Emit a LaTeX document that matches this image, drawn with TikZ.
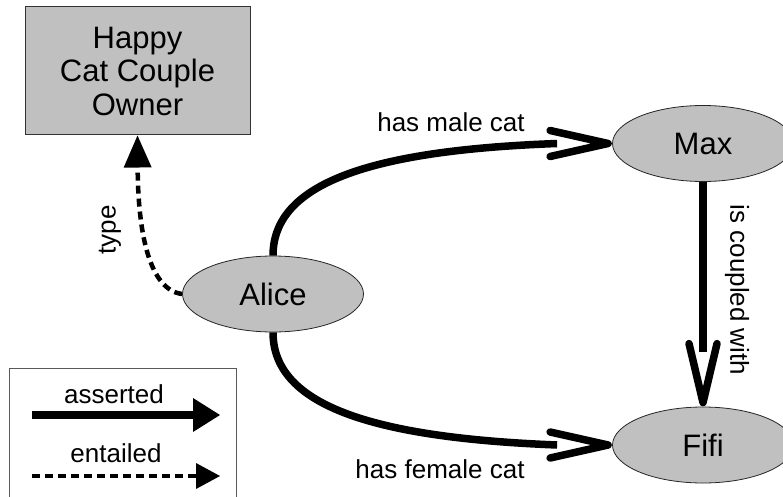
\documentclass[tikz,border=0pt]{standalone}
\usepackage{fontspec}
\setmainfont{Liberation Sans}
\usetikzlibrary{shapes.geometric,arrows.meta,calc}
\definecolor{nodegray}{RGB}{192,192,192}

\begin{document}
\begin{tikzpicture}[x=1pt,y=-1pt,
  entity/.style={ellipse, draw=black!85, line width=0.8pt, fill=nodegray,
    minimum width=181pt, minimum height=76pt, inner sep=0pt,
    font=\fontsize{31}{34}\selectfont},
  classbox/.style={rectangle, draw=black!80, line width=1pt, fill=nodegray,
    minimum width=225pt, minimum height=128pt, align=center,
    font=\fontsize{31}{33.5}\selectfont},
  lbl/.style={font=\fontsize{26}{30}\selectfont, inner sep=0pt},
  shaft/.style={line width=7.5pt},
  vhead/.style={line width=7.5pt, line cap=round, line join=round},
  entailedline/.style={line width=4.5pt, dash pattern=on 8pt off 5pt},
  keybox/.style={draw=black!65, line width=1pt},
]
\clip (0,0) rectangle (783,497);

% classes and individuals
\node[classbox] (owner) at (137.5,71) {Happy\\Cat Couple\\Owner};
\node[entity] (alice) at (273,294) {Alice};
\node[entity] (max) at (703,143.5) {Max};
\node[entity] (fifi) at (703,445) {Fifi};

% Alice -> Max
\coordinate (maxend) at ($(max.west)+(-55,0)$);
\draw[shaft] (alice.north) .. controls (273,180) and (380,150) .. (maxend);
\draw[vhead] ($(max.west)+(-62,-13)$) -- ($(max.west)+(-4,0)$) -- ($(max.west)+(-62,13)$);

% Alice -> Fifi
\coordinate (fifiwend) at ($(fifi.west)+(-55,0)$);
\draw[shaft] (alice.south) .. controls (273,408) and (380,438) .. (fifiwend);
\draw[vhead] ($(fifi.west)+(-62,-13)$) -- ($(fifi.west)+(-4,0)$) -- ($(fifi.west)+(-62,13)$);

% Max -> Fifi
\coordinate (fifinend) at ($(fifi.north)+(0,-55)$);
\draw[shaft] (max.south) -- (fifinend);
\draw[vhead] ($(fifi.north)+(-14,-63)$) -- ($(fifi.north)+(0,-4)$) -- ($(fifi.north)+(14,-63)$);

% Alice -> class (entailed)
\draw[entailedline, -{Triangle[length=32pt,width=28pt,line width=0pt]}]
  (alice.west) .. controls (150,290) and (138,235) .. (owner.south);

% edge labels
\node[lbl, anchor=base] (lmale) at (451,132) {has male cat};
\node[lbl, anchor=base] (lfemale) at (440,478) {has female cat};
\node[lbl, rotate=-90] (lcoupled) at (737,290) {is coupled with};
\node[lbl, rotate=90] (ltype) at (110,230) {type};

% key
\draw[keybox] (9,520) -- (9,368) -- (236,368) -- (236,520);
\node[lbl, anchor=base] (kasserted) at (114,403) {asserted};
\coordinate (ka1) at (32,415);
\coordinate (ka2) at (220,415);
\draw[shaft, -{Triangle[length=27pt,width=34pt,line width=0pt]}] (ka1) -- (ka2);
\node[lbl, anchor=base] (kentailed) at (116,462) {entailed};
\coordinate (ke1) at (32,476);
\coordinate (ke2) at (220,476);
\draw[entailedline, -{Triangle[length=24pt,width=26pt,line width=0pt]}] (ke1) -- (ke2);
\end{tikzpicture}
\end{document}
